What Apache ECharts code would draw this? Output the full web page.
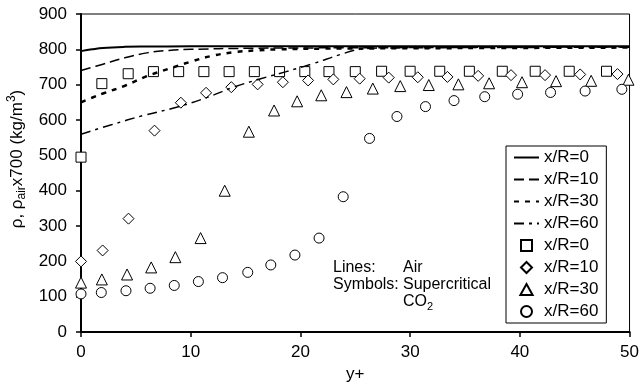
<!DOCTYPE html>
<html>
<head>
<meta charset="utf-8">
<script src="https://cdn.jsdelivr.net/npm/echarts@6/dist/echarts.min.js"></script>
<style>
  html, body { margin: 0; padding: 0; background: #fff; }
  #chart { width: 642px; height: 388px; }
</style>
</head>
<body>
<div id="chart"></div>
<script>
// Air density profiles (scaled by 700), plotted as lines
const airR0X = [0, 1, 2, 4, 6, 10, 20, 30, 40, 50];
const airR0Y = [795, 800, 804, 807, 808, 809, 809, 809, 809, 809];
const airR10X = [0, 2, 4, 6, 8, 10, 15, 20, 30, 40, 50];
const airR10Y = [740, 758, 776, 790, 797, 800, 803, 804, 805, 806, 807];
const airR30X = [0, 1, 2, 4, 6, 8, 10, 12, 14, 16, 18, 22, 30, 40, 50];
const airR30Y = [650, 663, 675, 697, 724, 745, 765, 782, 792, 797, 800, 802, 803, 804, 805];
const airR60X = [0, 2.7, 5.7, 8.7, 11.5, 13.9, 16.3, 18.7, 21.2, 23.6, 25.4, 28, 35, 50];
const airR60Y = [560, 586, 613, 636, 664, 693, 716, 737, 760, 785, 800, 804, 805, 806];

// Supercritical CO2 density profiles, plotted as symbols
const co2R0X = [0, 1.9, 4.3, 6.6, 8.9, 11.2, 13.5, 15.8, 18.1, 20.4, 22.6, 25.0, 27.4, 30.0, 32.7, 35.4, 38.4, 41.4, 44.5, 47.9];
const co2R0Y = [495, 703, 731, 737, 737, 737, 737, 737, 737, 737, 737, 737, 738, 738, 738, 738, 738, 738, 738, 738];
const co2R10X = [0, 1.97, 4.33, 6.7, 9.1, 11.4, 13.7, 16.1, 18.4, 20.7, 23.0, 25.4, 28.05, 30.7, 33.4, 36.2, 39.2, 42.3, 45.5, 48.9];
const co2R10Y = [200, 231, 321, 570, 649, 677, 693, 701, 707, 712, 715, 717, 720, 721, 722, 725, 727, 727, 729, 730];
const co2R30X = [0, 1.9, 4.2, 6.4, 8.6, 10.9, 13.1, 15.3, 17.6, 19.7, 21.9, 24.2, 26.6, 29.1, 31.7, 34.4, 37.2, 40.2, 43.3, 46.5, 49.9];
const co2R30Y = [140, 149, 163, 183, 212, 266, 400, 567, 627, 653, 670, 679, 689, 696, 699, 701, 704, 707, 710, 711, 714];
const co2R60X = [0, 1.85, 4.1, 6.3, 8.5, 10.7, 12.9, 15.2, 17.3, 19.5, 21.7, 23.9, 26.3, 28.8, 31.4, 34.0, 36.8, 39.8, 42.8, 45.95, 49.3];
const co2R60Y = [108, 112, 117, 124, 132, 143, 154, 169, 190, 218, 266, 383, 548, 610, 638, 655, 666, 673, 678, 682, 687];

const legendLabels = {
  lineR0: 'x/R=0', lineR10: 'x/R=10', lineR30: 'x/R=30', lineR60: 'x/R=60',
  symR0: 'x/R=0', symR10: 'x/R=10', symR30: 'x/R=30', symR60: 'x/R=60'
};

const FONT = 'Liberation Sans, Arial, Helvetica, sans-serif';
const zip = (xs, ys) => xs.map((x, i) => [x, ys[i]]);

// Square-proportioned outlines for the legend keys of the symbol series
const legendShapes = {
  symR0: 'path://M0,0H10V10H0Z',
  symR10: 'path://M5,0L10,5L5,10L0,5Z',
  symR30: 'path://M5,0L10,9L0,9Z',
  symR60: 'path://M0,5A5,5 0 1,0 10,5A5,5 0 1,0 0,5Z'
};

function lineSeries(id, xs, ys, width, dash) {
  return {
    name: id, type: 'line', data: zip(xs, ys), smooth: 0.4,
    symbol: 'none', z: 3,
    lineStyle: { color: '#000', width: width, type: dash, cap: 'butt' },
    itemStyle: { color: '#000' }
  };
}
function symbolSeries(id, xs, ys, symbol, size) {
  return {
    name: id, type: 'scatter', data: zip(xs, ys), symbol: symbol, symbolSize: size,
    clip: false, z: 2,
    itemStyle: { color: '#fff', borderColor: '#000', borderWidth: 1, opacity: 1 }
  };
}

const legendData = [
  { name: 'lineR0', itemStyle: { opacity: 0 } },
  { name: 'lineR10', itemStyle: { opacity: 0 } },
  { name: 'lineR30', itemStyle: { opacity: 0 } },
  { name: 'lineR60', itemStyle: { opacity: 0 } },
  { name: 'symR0', icon: legendShapes.symR0 },
  { name: 'symR10', icon: legendShapes.symR10 },
  { name: 'symR30', icon: legendShapes.symR30 },
  { name: 'symR60', icon: legendShapes.symR60 }
];

const chart = echarts.init(document.getElementById('chart'), null, { renderer: 'canvas' });
chart.setOption({
  animation: false,
  backgroundColor: '#fff',
  textStyle: { fontFamily: FONT },
  grid: { left: 81, right: 12, top: 14, bottom: 47, show: true, borderColor: '#000', borderWidth: 1 },
  xAxis: {
    type: 'value', min: 0, max: 50, interval: 10,
    name: 'y+', nameLocation: 'middle', nameGap: 29,
    nameTextStyle: { color: '#000', fontSize: 17, fontFamily: FONT },
    axisLine: { onZero: false, lineStyle: { color: '#000', width: 2 } },
    axisTick: { length: 5, lineStyle: { color: '#000', width: 1.5 } },
    axisLabel: { color: '#000', fontSize: 17, margin: 12, fontFamily: FONT },
    splitLine: { show: false }
  },
  yAxis: {
    type: 'value', min: 0, max: 900, interval: 100,
    axisLine: { show: true, onZero: false, lineStyle: { color: '#000', width: 2 } },
    axisTick: { show: true, length: 5, lineStyle: { color: '#000', width: 1.5 } },
    axisLabel: { color: '#000', fontSize: 17, margin: 14, fontFamily: FONT },
    splitLine: { show: false }
  },
  legend: {
    orient: 'vertical', left: 506, top: 146,
    padding: [3, 8, 3, 7], itemGap: 5, itemWidth: 25, itemHeight: 11,
    symbolKeepAspect: true,
    backgroundColor: '#fff', borderColor: '#000', borderWidth: 1, borderRadius: 0,
    textStyle: { color: '#000', fontSize: 17, fontFamily: FONT, padding: [0, 0, 0, 0] },
    formatter: name => legendLabels[name],
    data: legendData
  },
  graphic: [
    {
      type: 'text', x: 17, y: 159, rotation: Math.PI / 2,
      style: {
        text: '{m|ρ, ρ}{s|air}{m|x700 (kg/m}{p|3}{m|)}',
        align: 'center', verticalAlign: 'middle', fill: '#000',
        rich: {
          m: { fontSize: 17, lineHeight: 22, fontFamily: FONT, fill: '#000' },
          s: { fontSize: 12, lineHeight: 12, verticalAlign: 'bottom', fontFamily: FONT, fill: '#000' },
          p: { fontSize: 12, lineHeight: 12, verticalAlign: 'top', fontFamily: FONT, fill: '#000' }
        }
      }
    },
    { type: 'text', x: 333, y: 268, style: { text: 'Lines:', fontSize: 16, fontFamily: FONT, fill: '#000', verticalAlign: 'middle' } },
    { type: 'text', x: 403, y: 268, style: { text: 'Air', fontSize: 16, fontFamily: FONT, fill: '#000', verticalAlign: 'middle' } },
    { type: 'text', x: 333, y: 285, style: { text: 'Symbols:', fontSize: 16, fontFamily: FONT, fill: '#000', verticalAlign: 'middle' } },
    { type: 'text', x: 403, y: 285, style: { text: 'Supercritical', fontSize: 16, fontFamily: FONT, fill: '#000', verticalAlign: 'middle' } },
    {
      type: 'text', x: 403, y: 302,
      style: {
        text: '{m|CO}{s|2}', verticalAlign: 'middle', fill: '#000',
        rich: {
          m: { fontSize: 16, lineHeight: 20, fontFamily: FONT, fill: '#000' },
          s: { fontSize: 11, lineHeight: 11, verticalAlign: 'bottom', fontFamily: FONT, fill: '#000' }
        }
      }
    }
  ],
  series: [
    lineSeries('lineR0', airR0X, airR0Y, 2, 'solid'),
    lineSeries('lineR10', airR10X, airR10Y, 1.5, [10, 5]),
    lineSeries('lineR30', airR30X, airR30Y, 2.5, [5, 6]),
    lineSeries('lineR60', airR60X, airR60Y, 1.5, [10, 5, 3, 5]),
    symbolSeries('symR0', co2R0X, co2R0Y, 'rect', 10),
    symbolSeries('symR10', co2R10X, co2R10Y, 'diamond', 11),
    symbolSeries('symR30', co2R30X, co2R30Y, 'triangle', 11),
    symbolSeries('symR60', co2R60X, co2R60Y, 'circle', 10)
  ]
});
</script>
</body>
</html>
